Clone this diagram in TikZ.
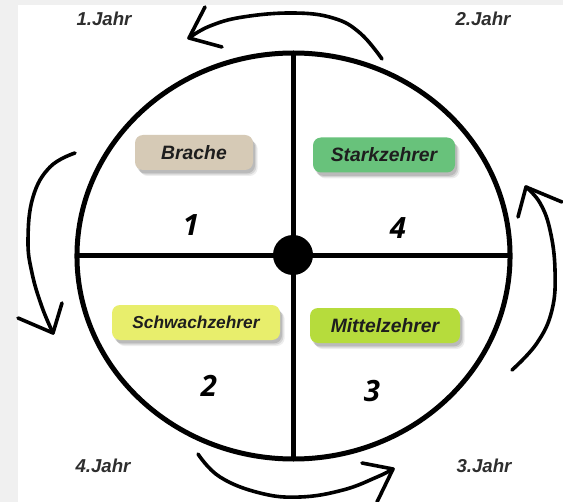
\documentclass[tikz,border=0pt]{standalone}
\usepackage{fontspec}
\setmainfont{Liberation Sans}
\newfontfamily\numfont{Open Sans}
\usetikzlibrary{shadows}
\definecolor{bgstrip}{HTML}{F0F0F0}
\definecolor{cBrache}{HTML}{D6CAB6}
\definecolor{cStark}{HTML}{68C27B}
\definecolor{cSchwach}{HTML}{E8EE6C}
\definecolor{cMittel}{HTML}{B6DC3C}
\definecolor{txt}{HTML}{1E1E1E}
\definecolor{jahrtxt}{HTML}{2E2E2E}
\tikzset{
  ring/.style={line width=3.75pt},
  arr/.style={line width=2.7pt, line cap=round, line join=round},
  cropbox/.style={rounded corners=6pt, minimum height=26.25pt, inner sep=0pt,
    text=txt, font=\fontsize{14.5}{17}\selectfont\bfseries\itshape,
    drop shadow={shadow xshift=1.5pt,shadow yshift=-2.5pt,opacity=.12,fill=black},
    drop shadow={shadow xshift=2.5pt,shadow yshift=-3.5pt,opacity=.10,fill=black},
    drop shadow={shadow xshift=3.5pt,shadow yshift=-4.5pt,opacity=.07,fill=black}},
  jahr/.style={inner sep=0pt, text=jahrtxt, font=\fontsize{14}{16}\selectfont\bfseries\itshape},
  num/.style={inner sep=0pt, text=black, font=\numfont\fontsize{22}{26}\selectfont\bfseries\itshape}
}
\begin{document}
\begin{tikzpicture}[x=0.75pt,y=-0.75pt]
\useasboundingbox (0,0) rectangle (563,502);
\fill[bgstrip] (0,0) rectangle (563,502);
\fill[white] (18,5) rectangle (563,502);

% wheel
\coordinate (c) at (293.5,256);
\draw[ring] (c) ellipse [x radius=162.4pt, y radius=152.25pt];
\coordinate (top) at (293,53);
\coordinate (bot) at (293,459);
\coordinate (lft) at (77,255);
\coordinate (rgt) at (510,255);
\draw[ring] (top) -- (bot);
\draw[ring] (lft) -- (rgt);
\fill (293,255) circle [radius=15pt];

% boxes
\node[cropbox, fill=cBrache, minimum width=88.5pt] (brache) at (194,152.5) {Brache};
\node[cropbox, fill=cStark, minimum width=106.5pt] (stark) at (384,155) {Starkzehrer};
\node[cropbox, fill=cSchwach, minimum width=126pt, font=\fontsize{13}{15}\selectfont\bfseries\itshape] (schwach) at (196,322.5) {Schwachzehrer};
\node[cropbox, fill=cMittel, minimum width=112.5pt] (mittel) at (385,325.5) {Mittelzehrer};

% numbers
\node[num] (n1) at (191,225) {1};
\node[num] (n4) at (398,228) {4};
\node[num] (n2) at (209,386) {2};
\node[num] (n3) at (372,391) {3};

% year labels
\node[jahr] (j1) at (104,19) {1.Jahr};
\node[jahr] (j2) at (483,19) {2.Jahr};
\node[jahr] (j4) at (103,466) {4.Jahr};
\node[jahr] (j3) at (484,466) {3.Jahr};

% top arrow
\coordinate (tA) at (189,38);
\draw[arr] plot[smooth, tension=0.7] coordinates {(382,59) (360,33) (333,18) (293,13) (243,17) (210,26) (189,38)};
\draw[arr] (205,7) -- (tA) -- (222,47);

% left arrow
\coordinate (tL) at (53,333);
\draw[arr] plot[smooth, tension=0.7] coordinates {(75,153) (50,167) (33,197) (28,240) (32,273) (42,307) (53,333)};
\draw[arr] (62,303) -- (tL) -- (18,318);

% bottom arrow
\coordinate (tB) at (393,469);
\draw[arr] plot[smooth, tension=0.7] coordinates {(198,454) (220,477) (260,493) (300,497) (343,490) (377,477) (393,469)};
\draw[arr] (362,463) -- (tB) -- (377,502);

% right arrow
\coordinate (tR) at (526,187);
\draw[arr] plot[smooth, tension=0.7] coordinates {(512,370) (537,343) (552,310) (555,270) (550,230) (540,203) (526,187)};
\draw[arr] (518,217) -- (tR) -- (562,202);
\end{tikzpicture}
\end{document}
